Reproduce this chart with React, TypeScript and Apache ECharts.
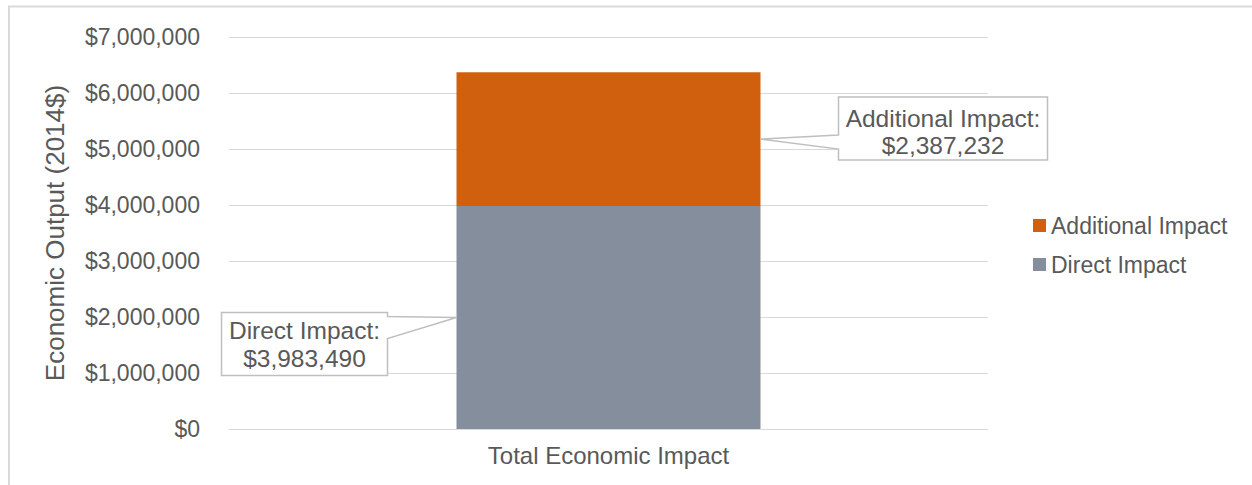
import React, { useEffect, useRef } from "react";
import * as echarts from "echarts";

const categories = ["Total Economic Impact"];
const directImpact = [3983490];
const additionalImpact = [2387232];
const yTicks = { min: 0, max: 7000000, interval: 1000000 };
const seriesNames = ["Additional Impact", "Direct Impact"];

const TEXT = "#595959";
const FONT = "'Liberation Sans', Arial, sans-serif";
const BAR_W = 304;

function money(v: number) {
  return "$" + Math.round(v).toLocaleString("en-US");
}

export default function App() {
  const ref = useRef<HTMLDivElement>(null);
  useEffect(() => {
    if (!ref.current) return;
    const chart = echarts.init(ref.current, undefined, { renderer: "svg" });
    chart.setOption({
      animation: false,
      backgroundColor: "#ffffff",
      textStyle: { fontFamily: FONT, color: TEXT },
      grid: { left: 229, right: 264, top: 37, bottom: 56 },
      legend: {
        orient: "vertical",
        left: 1028,
        top: 209,
        itemWidth: 13,
        itemHeight: 13,
        itemGap: 16,
        icon: "rect",
        data: seriesNames,
        textStyle: { fontSize: 23, color: TEXT, fontFamily: FONT },
      },
      xAxis: {
        type: "category",
        data: categories,
        axisLine: { show: true, lineStyle: { color: "#D9D9D9", width: 1 } },
        axisTick: { show: false },
        axisLabel: { fontSize: 24, color: TEXT, margin: 14, fontFamily: FONT },
      },
      yAxis: {
        type: "value",
        min: yTicks.min,
        max: yTicks.max,
        interval: yTicks.interval,
        axisLine: { show: false },
        axisTick: { show: false },
        splitLine: { lineStyle: { color: "#D9D9D9", width: 1 } },
        axisLabel: {
          fontSize: 23,
          color: TEXT,
          margin: 29,
          fontFamily: FONT,
          formatter: (v: number) => money(v),
        },
      },
      series: [
        {
          name: "Direct Impact",
          type: "bar",
          stack: "total",
          barWidth: BAR_W,
          itemStyle: { color: "#858E9C" },
          data: directImpact,
        },
        {
          name: "Additional Impact",
          type: "bar",
          stack: "total",
          barWidth: BAR_W,
          itemStyle: { color: "#D1600E" },
          data: additionalImpact,
        },
      ],
    });

    const dMid = directImpact[0] / 2;
    const aMid = directImpact[0] + additionalImpact[0] / 2;
    const pD = chart.convertToPixel({ xAxisIndex: 0, yAxisIndex: 0 }, [categories[0], dMid]) as number[];
    const pA = chart.convertToPixel({ xAxisIndex: 0, yAxisIndex: 0 }, [categories[0], aMid]) as number[];

    // Direct callout: box to the left of bar
    const dtx = pD[0] - BAR_W / 2;
    const dty = pD[1];
    const dR = dtx - 69;
    const dL = dR - 166;
    const dT = dty - 5;
    const dB = dT + 63;
    const directPoly = [
      [dL, dT],
      [dR, dT],
      [dR, dT + 4],
      [dtx, dty],
      [dR, dT + 26],
      [dR, dB],
      [dL, dB],
    ];

    // Additional callout: box to the right of bar
    const atx = pA[0] + BAR_W / 2;
    const aty = pA[1];
    const aL = atx + 78;
    const aR = aL + 209;
    const aT = aty - 42;
    const aB = aT + 63;
    const addPoly = [
      [aL, aT],
      [aR, aT],
      [aR, aB],
      [aL, aB],
      [aL, aty + 10],
      [atx, aty],
      [aL, aty - 4],
    ];

    const calloutStyle = { fill: "#ffffff", stroke: "#BFBFBF", lineWidth: 1.5 };
    const txt = (x: number, y: number, s: string) => ({
      type: "text",
      x,
      y,
      style: {
        text: s,
        fill: TEXT,
        font: `24.5px ${FONT}`,
        align: "center",
        verticalAlign: "middle",
      },
      z: 20,
    });

    chart.setOption({
      graphic: [
        {
          type: "rect",
          shape: { x: 9, y: 6.5, width: 1400, height: 700 },
          style: { fill: "none", stroke: "#D9D9D9", lineWidth: 2 },
          silent: true,
          z: 0,
        },
        {
          type: "text",
          x: 55,
          y: 233,
          rotation: Math.PI / 2,
          style: {
            text: "Economic Output (2014$)",
            fill: TEXT,
            font: `26px ${FONT}`,
            align: "center",
            verticalAlign: "middle",
          },
        },
        { type: "polygon", shape: { points: directPoly }, style: calloutStyle, z: 10 },
        txt((dL + dR) / 2, dT + 18, "Direct Impact:"),
        txt((dL + dR) / 2, dT + 46, money(directImpact[0])),
        { type: "polygon", shape: { points: addPoly }, style: calloutStyle, z: 10 },
        txt((aL + aR) / 2, aT + 21, "Additional Impact:"),
        txt((aL + aR) / 2, aT + 48, money(additionalImpact[0])),
      ],
    });

    return () => chart.dispose();
  }, []);
  return (
    <div
      ref={ref}
      style={{ position: "absolute", left: 0, top: 0, width: 1252, height: 485 }}
    />
  );
}
